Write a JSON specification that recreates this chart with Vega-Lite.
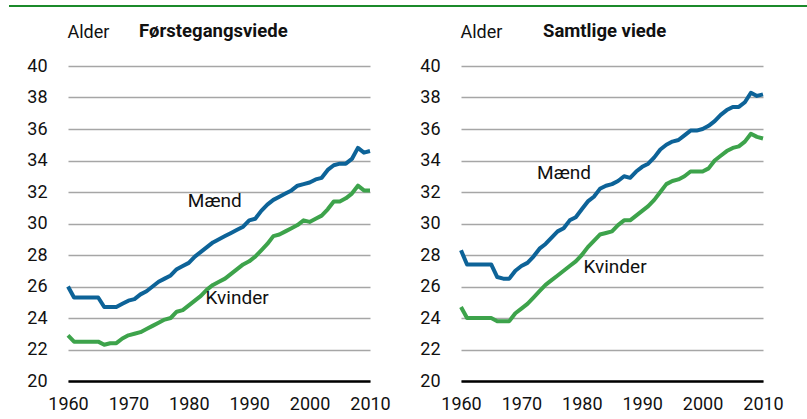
{
  "$schema": "https://vega.github.io/schema/vega-lite/v6.json",
  "autosize": {"type": "pad"},
  "padding": {"left": 7, "top": 4, "right": 0, "bottom": 0},
  "background": "white",
  "bounds": "flush",
  "spacing": 91,
  "config": {
    "view": {"stroke": null},
    "font": "Roboto",
    "axis": {"labelFont": "Roboto", "labelFontSize": 18, "labelColor": "#111111", "titleFont": "Roboto", "labelOverlap": false, "ticks": false},
    "axisX": {"grid": false, "tickCount": 6, "labelPadding": 14, "domainColor": "#000000", "domainWidth": 2.5, "labelFlush": false, "format": "d"},
    "axisY": {"tickCount": 11, "domain": false, "labelPadding": 21, "gridColor": "#a6a6a6", "gridWidth": 1.5, "labelBaseline": "middle",
      "titleAngle": 0, "titleAlign": "left", "titleBaseline": "alphabetic", "titleX": -1, "titleY": -29, "titleFontSize": 18, "titleFontWeight": "normal", "titleColor": "#111111"},
    "text": {"font": "Roboto"}
  },
  "datasets": {
    "first": [
      {"year": 1960, "Mænd": 26.0, "Kvinder": 22.9},
      {"year": 1961, "Mænd": 25.3, "Kvinder": 22.5},
      {"year": 1962, "Mænd": 25.3, "Kvinder": 22.5},
      {"year": 1963, "Mænd": 25.3, "Kvinder": 22.5},
      {"year": 1964, "Mænd": 25.3, "Kvinder": 22.5},
      {"year": 1965, "Mænd": 25.3, "Kvinder": 22.5},
      {"year": 1966, "Mænd": 24.7, "Kvinder": 22.3},
      {"year": 1967, "Mænd": 24.7, "Kvinder": 22.4},
      {"year": 1968, "Mænd": 24.7, "Kvinder": 22.4},
      {"year": 1969, "Mænd": 24.9, "Kvinder": 22.7},
      {"year": 1970, "Mænd": 25.1, "Kvinder": 22.9},
      {"year": 1971, "Mænd": 25.2, "Kvinder": 23.0},
      {"year": 1972, "Mænd": 25.5, "Kvinder": 23.1},
      {"year": 1973, "Mænd": 25.7, "Kvinder": 23.3},
      {"year": 1974, "Mænd": 26.0, "Kvinder": 23.5},
      {"year": 1975, "Mænd": 26.3, "Kvinder": 23.7},
      {"year": 1976, "Mænd": 26.5, "Kvinder": 23.9},
      {"year": 1977, "Mænd": 26.7, "Kvinder": 24.0},
      {"year": 1978, "Mænd": 27.1, "Kvinder": 24.4},
      {"year": 1979, "Mænd": 27.3, "Kvinder": 24.5},
      {"year": 1980, "Mænd": 27.5, "Kvinder": 24.8},
      {"year": 1981, "Mænd": 27.9, "Kvinder": 25.1},
      {"year": 1982, "Mænd": 28.2, "Kvinder": 25.4},
      {"year": 1983, "Mænd": 28.5, "Kvinder": 25.8},
      {"year": 1984, "Mænd": 28.8, "Kvinder": 26.1},
      {"year": 1985, "Mænd": 29.0, "Kvinder": 26.3},
      {"year": 1986, "Mænd": 29.2, "Kvinder": 26.5},
      {"year": 1987, "Mænd": 29.4, "Kvinder": 26.8},
      {"year": 1988, "Mænd": 29.6, "Kvinder": 27.1},
      {"year": 1989, "Mænd": 29.8, "Kvinder": 27.4},
      {"year": 1990, "Mænd": 30.2, "Kvinder": 27.6},
      {"year": 1991, "Mænd": 30.3, "Kvinder": 27.9},
      {"year": 1992, "Mænd": 30.8, "Kvinder": 28.3},
      {"year": 1993, "Mænd": 31.2, "Kvinder": 28.7},
      {"year": 1994, "Mænd": 31.5, "Kvinder": 29.2},
      {"year": 1995, "Mænd": 31.7, "Kvinder": 29.3},
      {"year": 1996, "Mænd": 31.9, "Kvinder": 29.5},
      {"year": 1997, "Mænd": 32.1, "Kvinder": 29.7},
      {"year": 1998, "Mænd": 32.4, "Kvinder": 29.9},
      {"year": 1999, "Mænd": 32.5, "Kvinder": 30.2},
      {"year": 2000, "Mænd": 32.6, "Kvinder": 30.1},
      {"year": 2001, "Mænd": 32.8, "Kvinder": 30.3},
      {"year": 2002, "Mænd": 32.9, "Kvinder": 30.5},
      {"year": 2003, "Mænd": 33.4, "Kvinder": 30.9},
      {"year": 2004, "Mænd": 33.7, "Kvinder": 31.4},
      {"year": 2005, "Mænd": 33.8, "Kvinder": 31.4},
      {"year": 2006, "Mænd": 33.8, "Kvinder": 31.6},
      {"year": 2007, "Mænd": 34.1, "Kvinder": 31.9},
      {"year": 2008, "Mænd": 34.8, "Kvinder": 32.4},
      {"year": 2009, "Mænd": 34.5, "Kvinder": 32.1},
      {"year": 2010, "Mænd": 34.6, "Kvinder": 32.1}
    ],
    "all": [
      {"year": 1960, "Mænd": 28.3, "Kvinder": 24.7},
      {"year": 1961, "Mænd": 27.4, "Kvinder": 24.0},
      {"year": 1962, "Mænd": 27.4, "Kvinder": 24.0},
      {"year": 1963, "Mænd": 27.4, "Kvinder": 24.0},
      {"year": 1964, "Mænd": 27.4, "Kvinder": 24.0},
      {"year": 1965, "Mænd": 27.4, "Kvinder": 24.0},
      {"year": 1966, "Mænd": 26.6, "Kvinder": 23.8},
      {"year": 1967, "Mænd": 26.5, "Kvinder": 23.8},
      {"year": 1968, "Mænd": 26.5, "Kvinder": 23.8},
      {"year": 1969, "Mænd": 27.0, "Kvinder": 24.3},
      {"year": 1970, "Mænd": 27.3, "Kvinder": 24.6},
      {"year": 1971, "Mænd": 27.5, "Kvinder": 24.9},
      {"year": 1972, "Mænd": 27.9, "Kvinder": 25.3},
      {"year": 1973, "Mænd": 28.4, "Kvinder": 25.7},
      {"year": 1974, "Mænd": 28.7, "Kvinder": 26.1},
      {"year": 1975, "Mænd": 29.1, "Kvinder": 26.4},
      {"year": 1976, "Mænd": 29.5, "Kvinder": 26.7},
      {"year": 1977, "Mænd": 29.7, "Kvinder": 27.0},
      {"year": 1978, "Mænd": 30.2, "Kvinder": 27.3},
      {"year": 1979, "Mænd": 30.4, "Kvinder": 27.6},
      {"year": 1980, "Mænd": 30.9, "Kvinder": 28.0},
      {"year": 1981, "Mænd": 31.4, "Kvinder": 28.5},
      {"year": 1982, "Mænd": 31.7, "Kvinder": 28.9},
      {"year": 1983, "Mænd": 32.2, "Kvinder": 29.3},
      {"year": 1984, "Mænd": 32.4, "Kvinder": 29.4},
      {"year": 1985, "Mænd": 32.5, "Kvinder": 29.5},
      {"year": 1986, "Mænd": 32.7, "Kvinder": 29.9},
      {"year": 1987, "Mænd": 33.0, "Kvinder": 30.2},
      {"year": 1988, "Mænd": 32.9, "Kvinder": 30.2},
      {"year": 1989, "Mænd": 33.3, "Kvinder": 30.5},
      {"year": 1990, "Mænd": 33.6, "Kvinder": 30.8},
      {"year": 1991, "Mænd": 33.8, "Kvinder": 31.1},
      {"year": 1992, "Mænd": 34.2, "Kvinder": 31.5},
      {"year": 1993, "Mænd": 34.7, "Kvinder": 32.0},
      {"year": 1994, "Mænd": 35.0, "Kvinder": 32.5},
      {"year": 1995, "Mænd": 35.2, "Kvinder": 32.7},
      {"year": 1996, "Mænd": 35.3, "Kvinder": 32.8},
      {"year": 1997, "Mænd": 35.6, "Kvinder": 33.0},
      {"year": 1998, "Mænd": 35.9, "Kvinder": 33.3},
      {"year": 1999, "Mænd": 35.9, "Kvinder": 33.3},
      {"year": 2000, "Mænd": 36.0, "Kvinder": 33.3},
      {"year": 2001, "Mænd": 36.2, "Kvinder": 33.5},
      {"year": 2002, "Mænd": 36.5, "Kvinder": 34.0},
      {"year": 2003, "Mænd": 36.9, "Kvinder": 34.3},
      {"year": 2004, "Mænd": 37.2, "Kvinder": 34.6},
      {"year": 2005, "Mænd": 37.4, "Kvinder": 34.8},
      {"year": 2006, "Mænd": 37.4, "Kvinder": 34.9},
      {"year": 2007, "Mænd": 37.7, "Kvinder": 35.2},
      {"year": 2008, "Mænd": 38.3, "Kvinder": 35.7},
      {"year": 2009, "Mænd": 38.1, "Kvinder": 35.5},
      {"year": 2010, "Mænd": 38.2, "Kvinder": 35.4}
    ]
  },
  "hconcat": [
    {
      "width": 302,
      "height": 315,
      "layer": [
        {
          "data": {"name": "first"},
          "transform": [{"fold": ["Mænd", "Kvinder"], "as": ["sex", "age"]}],
          "mark": {"type": "line", "strokeWidth": 4, "strokeJoin": "round"},
          "encoding": {
            "x": {"field": "year", "type": "quantitative", "scale": {"domain": [1960, 2010], "nice": false, "zero": false}, "axis": {"title": null}},
            "y": {"field": "age", "type": "quantitative", "scale": {"domain": [20, 40], "nice": false, "zero": false}, "axis": {"title": "Alder"}},
            "color": {"field": "sex", "type": "nominal", "scale": {"domain": ["Mænd", "Kvinder"], "range": ["#0d6398", "#3da34b"]}, "legend": null}
          }
        },
        {
          "data": {"values": [{}]},
          "mark": {"type": "text", "fontSize": 19, "align": "center", "baseline": "middle", "color": "#111111"},
          "encoding": {"x": {"datum": 1984.3, "type": "quantitative"}, "y": {"datum": 31.4, "type": "quantitative"}, "text": {"value": "Mænd"}}
        },
        {
          "data": {"values": [{}]},
          "mark": {"type": "text", "fontSize": 19, "align": "center", "baseline": "middle", "color": "#111111"},
          "encoding": {"x": {"datum": 1988.0, "type": "quantitative"}, "y": {"datum": 25.3, "type": "quantitative"}, "text": {"value": "Kvinder"}}
        },
        {
          "data": {"values": [{}]},
          "mark": {"type": "text", "fontSize": 18.5, "fontWeight": "bold", "align": "left", "baseline": "alphabetic", "color": "#111111", "clip": false},
          "encoding": {"x": {"datum": 1971.75, "type": "quantitative"}, "y": {"datum": 41.84, "type": "quantitative"}, "text": {"value": "Førstegangsviede"}}
        },
        {
          "data": {"values": [{}]},
          "mark": {"type": "rule", "color": "#1b8a2a", "strokeWidth": 2, "clip": false},
          "encoding": {
            "x": {"datum": 1950.23, "type": "quantitative"},
            "x2": {"datum": 2082.68},
            "y": {"datum": 43.81, "type": "quantitative"}
          }
        }
      ]
    },
    {
      "width": 302,
      "height": 315,
      "layer": [
        {
          "data": {"name": "all"},
          "transform": [{"fold": ["Mænd", "Kvinder"], "as": ["sex", "age"]}],
          "mark": {"type": "line", "strokeWidth": 4, "strokeJoin": "round"},
          "encoding": {
            "x": {"field": "year", "type": "quantitative", "scale": {"domain": [1960, 2010], "nice": false, "zero": false}, "axis": {"title": null}},
            "y": {"field": "age", "type": "quantitative", "scale": {"domain": [20, 40], "nice": false, "zero": false}, "axis": {"title": "Alder"}},
            "color": {"field": "sex", "type": "nominal", "scale": {"domain": ["Mænd", "Kvinder"], "range": ["#0d6398", "#3da34b"]}, "legend": null}
          }
        },
        {
          "data": {"values": [{}]},
          "mark": {"type": "text", "fontSize": 19, "align": "center", "baseline": "middle", "color": "#111111"},
          "encoding": {"x": {"datum": 1977.05, "type": "quantitative"}, "y": {"datum": 33.2, "type": "quantitative"}, "text": {"value": "Mænd"}}
        },
        {
          "data": {"values": [{}]},
          "mark": {"type": "text", "fontSize": 19, "align": "center", "baseline": "middle", "color": "#111111"},
          "encoding": {"x": {"datum": 1985.5, "type": "quantitative"}, "y": {"datum": 27.25, "type": "quantitative"}, "text": {"value": "Kvinder"}}
        },
        {
          "data": {"values": [{}]},
          "mark": {"type": "text", "fontSize": 18.5, "fontWeight": "bold", "align": "left", "baseline": "alphabetic", "color": "#111111", "clip": false},
          "encoding": {"x": {"datum": 1973.58, "type": "quantitative"}, "y": {"datum": 41.84, "type": "quantitative"}, "text": {"value": "Samtlige viede"}}
        }
      ]
    }
  ]
}
